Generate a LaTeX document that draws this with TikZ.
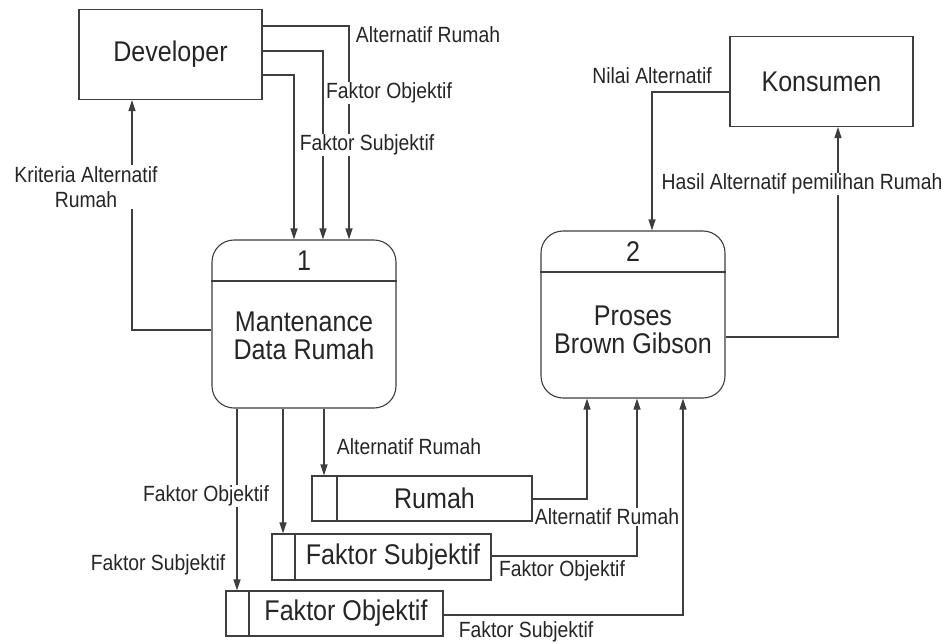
\documentclass[tikz,border=0pt]{standalone}
\usepackage{fontspec}
\setmainfont[FakeStretch=0.88]{Liberation Sans}
\usetikzlibrary{arrows.meta}
\definecolor{dfdLine}{RGB}{62,62,62}
\definecolor{dfdText}{RGB}{38,38,38}

\begin{document}
\begin{tikzpicture}[x=1pt, y=-1pt,
  every node/.style={text=dfdText},
  box/.style={draw=dfdLine, line width=1.1pt},
  entity/.style={box, minimum width=183pt, minimum height=90pt, inner sep=0pt,
    font=\fontsize{28.5}{28}\selectfont},
  proc/.style={box, rounded corners=22pt, minimum width=184pt, minimum height=168pt, inner sep=0pt},
  store/.style={box, minimum height=45pt, inner sep=0pt},
  bigtext/.style={font=\fontsize{28.5}{28}\selectfont, align=center},
  flow/.style={draw=dfdLine, line width=1.3pt, -{Triangle[length=11pt,width=7pt]}},
  lbl/.style={font=\fontsize{22}{25}\selectfont, fill=white, inner sep=1pt, align=center}
]

%
\fill[white] (0,0) rectangle (943,643);
\useasboundingbox (0,0) rectangle (943,643);

%
\node[entity] (dev) at (170.5,54.5) {Developer};
\node[entity] (kons) at (821.5,81.5) {Konsumen};

%
\node[proc] (p1) at (304,324) {};
\node[bigtext] (p1id) at (304,261) {1};
\draw[box] (p1.west |- 0,281) -- (p1.east |- 0,281);
\node[bigtext] (p1txt) at (304,336) {Mantenance\\Data Rumah};

%
\node[proc, minimum height=167pt] (p2) at (633,314.5) {};
\node[bigtext] (p2id) at (633,252) {2};
\draw[box] (p2.west |- 0,272) -- (p2.east |- 0,272);
\node[bigtext] (p2txt) at (633,330) {Proses\\Brown Gibson};

%
\node[store, minimum width=220pt] (rumah) at (422,498.5) {};
\draw[box] (rumah.north -| 337,0) -- (rumah.south -| 337,0);
\node[bigtext] (rumahtxt) at (434.5,498.5) {Rumah};

\node[store, minimum width=219pt, minimum height=46pt] (fs) at (381.5,557) {};
\draw[box] (fs.north -| 295,0) -- (fs.south -| 295,0);
\node[bigtext] (fstxt) at (393,557) {Faktor Subjektif};

\node[store, minimum width=217pt] (fo) at (334.5,613.5) {};
\draw[box] (fo.north -| 249,0) -- (fo.south -| 249,0);
\node[bigtext] (fotxt) at (346,613.5) {Faktor Objektif};

%
\draw[flow] (dev.east |- 0,26) -| (p1.north -| 349,0);
\draw[flow] (dev.east |- 0,51) -| (p1.north -| 323,0);
\draw[flow] (dev.east |- 0,75) -| (p1.north -| 294,0);
\draw[flow] (p1.west |- 0,330) -| (dev.south -| 132,0);

%
\draw[flow] (kons.west |- 0,92) -| (p2.north -| 652,0);
\draw[flow] (p2.east |- 0,337) -| (kons.south -| 838,0);

%
\draw[flow] (p1.south -| 324,0) -- (rumah.north -| 324,0);
\draw[flow] (p1.south -| 283,0) -- (fs.north -| 283,0);
\draw[flow] (p1.south -| 237,0) -- (fo.north -| 237,0);

%
\draw[flow] (rumah.east |- 0,499) -| (p2.south -| 587,0);
\draw[flow] (fs.east |- 0,556) -| (p2.south -| 637,0);
\draw[flow] (fo.east |- 0,615) -| (p2.south -| 683,0);

%
\node[lbl] (l1) at (428,35) {Alternatif Rumah};
\node[lbl] (l2) at (389,93) {Faktor Objektif};
\node[lbl] (l3) at (367,145) {Faktor Subjektif};
\node[lbl] (l4) at (86,187) {Kriteria Alternatif\\Rumah};
\node[lbl] (l5) at (652,76) {Nilai Alternatif};
\node[lbl] (l6) at (802,184) {Hasil Alternatif pemilihan Rumah};
\node[lbl] (l7) at (409,447) {Alternatif Rumah};
\node[lbl] (l8) at (206,496) {Faktor Objektif};
\node[lbl] (l9) at (158,565) {Faktor Subjektif};
\node[lbl] (l10) at (607,517) {Alternatif Rumah};
\node[lbl] (l11) at (562,571) {Faktor Objektif};
\node[lbl] (l12) at (526,632) {Faktor Subjektif};

\end{tikzpicture}
\end{document}
